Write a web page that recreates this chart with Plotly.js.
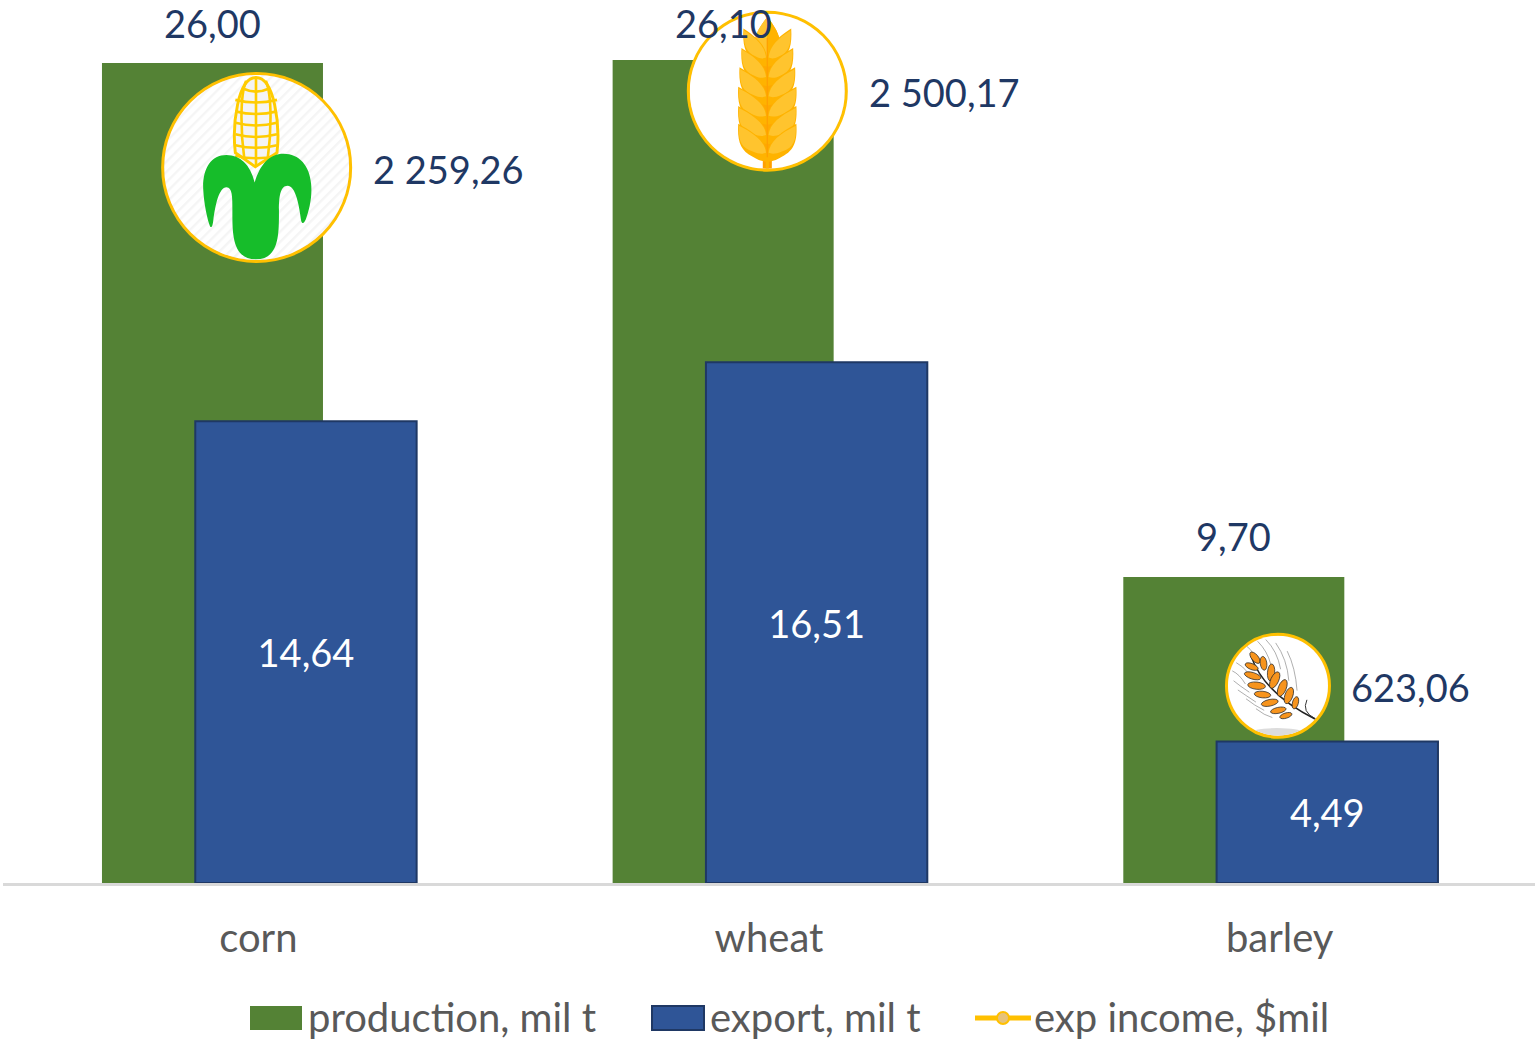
<!DOCTYPE html>
<html><head><meta charset="utf-8">
<script src="https://cdn.plot.ly/plotly-3.0.1.min.js"></script>
<style>html,body{margin:0;padding:0;background:#fff;overflow:hidden}#chart{width:1537px;height:1044px}</style>
</head><body><div id="chart"></div>
<script>
const categories = ['corn', 'wheat', 'barley'];
const production = [26.00, 26.10, 9.70];
const exportVol = [14.64, 16.51, 4.49];
const income = [2259.26, 2500.17, 623.06];
const seriesNames = ['production, mil t', 'export, mil t', 'exp income, $mil'];

const fmt = v => { const p = v.toFixed(2).split('.'); return p[0].replace(/\B(?=(\d{3})+$)/g, ' ') + ',' + p[1]; };
const FONT = 'Lato, sans-serif', NAVY = '#1f3864', GREY = '#595959', ORANGE = '#ffc000';
const CAT_PX = 1532 / 3, Y2_MAX = 2788, PLOT_H = 883;

// ---- icons ----
const disc = (vb, cx, cy, r, inner) => `<svg xmlns="http://www.w3.org/2000/svg" viewBox="${vb}" width="400" height="400"><defs>
<clipPath id="c"><circle cx="${cx}" cy="${cy}" r="${r}"/></clipPath>
<pattern id="h" width="22" height="22" patternUnits="userSpaceOnUse" patternTransform="rotate(-45)"><rect width="22" height="22" fill="#fff"/><rect width="22" height="7" fill="#f5f5f5"/></pattern></defs>${inner}</svg>`;

const cornIcon = (() => {
  let grid = '';
  [75, 108, 143, 178, 213, 246, 278].forEach((y, i) => { grid += `<path d="M${i < 1 ? 282 : 255},${y + 6} Q318,${y + 22} ${i < 1 ? 354 : 382},${y + 6}"/>`; });
  grid += '<path d="M318,46V318M288,56C268,100 272,220 282,290M348,56C368,100 364,220 354,290"/>';
  return disc('38 38 564 564', 320, 320, 282, `<circle cx="320" cy="320" r="282" fill="url(#h)"/>
<g clip-path="url(#c)"><path d="M255,275C245,190 262,46 318,46C374,46 392,190 382,275L316,318Z" fill="#f4f4f4" stroke="#ffcc00" stroke-width="9"/>
<g fill="none" stroke="#ffcc00" stroke-width="8">${grid}</g>
<path d="M314,366C300,310 270,282 228,282C180,282 155,325 157,385C159,430 170,480 178,500C184,506 186,495 188,480C194,435 205,380 228,380C246,380 246,410 246,450C246,520 245,600 318,600C390,600 388,520 388,450C388,410 392,376 414,376C440,376 450,440 456,484C460,494 465,490 470,478C480,450 490,410 486,370C482,315 450,278 402,278C360,278 330,310 314,366Z" fill="#16bd2a"/></g>`);
})();

const wheatIcon = (() => {
  const rows = [[74, 185], [80, 245], [86, 305], [90, 365], [90, 425], [90, 480]];
  let g = '';
  rows.forEach(([w, yb]) => {
    const tip = yb - 104;
    const right = `M292,${yb}C292,${yb - 50} ${292 + w * 0.4},${tip + 30} ${292 + w},${tip}C${292 + w + 3},${tip + 50} ${292 + w - 4},${yb - 22} ${292 + w * 0.5},${yb - 2}C${292 + w * 0.3},${yb + 10} 305,${yb + 12} 292,${yb + 14}Z`;
    const light = `M296,${yb - 14}C300,${yb - 50} ${292 + w * 0.45},${tip + 30} ${292 + w - 2},${tip + 6}C${292 + w},${tip + 50} ${292 + w - 8},${yb - 30} ${292 + w * 0.5},${yb - 18}C${292 + w * 0.3},${yb - 10} 305,${yb - 10} 296,${yb - 14}Z`;
    [1, -1].forEach(s => {
      const t = s < 0 ? 'transform="translate(584,0) scale(-1,1)"' : '';
      g += `<g ${t}><path d="${right}" fill="#ffb300"/><path d="${light}" fill="#ffc42e"/></g>`;
    });
  });
  return disc('52 35 480 480', 292, 275, 240, `<circle cx="292" cy="275" r="240" fill="#fff"/>
<g clip-path="url(#c)"><rect x="278" y="470" width="28" height="50" fill="#ffa000"/><rect x="287" y="470" width="10" height="50" fill="#ffb300"/>
<path d="M292,45C312,70 332,100 332,130L340,460Q292,500 244,460L252,130C252,100 272,70 292,45Z" fill="#ffa800"/>
<path d="M292,45C272,70 252,100 252,130L292,190Z" fill="#ffc42e"/><path d="M292,45C312,70 332,100 332,130L292,190Z" fill="#ffb300"/>
${g}<path d="M292,110V480" stroke="#ffa000" stroke-width="4"/></g>`);
})();

const barleyIcon = (() => {
  const grains = [[97, 80, 50, 21, 10], [123, 97, 82, 21, 10], [146, 125, -85, 26, 11], [157, 148, -65, 27, 12], [180, 172, -68, 27, 12], [200, 195, -70, 26, 12], [220, 217, -75, 19, 9],
                  [87, 107, 22, 21, 9], [90, 135, 17, 26, 10], [102, 165, 6, 27, 11], [120, 192, 6, 25, 10], [142, 217, -12, 26, 10], [168, 240, -12, 24, 9], [191, 256, -17, 19, 8]];
  const awns = ['M40,95Q60,105 78,128', 'M28,120Q50,130 68,160', 'M32,150Q50,165 80,185', 'M45,178Q70,195 100,215', 'M70,205Q95,225 125,240', 'M100,235Q125,255 150,262',
                'M72,45Q85,55 92,68', 'M105,30Q135,60 145,100', 'M130,25Q165,60 175,115', 'M160,35Q195,85 200,150', 'M195,60Q220,110 225,180'];
  return disc('15 13 304 304', 167, 165, 152, `<circle cx="167" cy="165" r="152" fill="#fff"/>
<g clip-path="url(#c)"><ellipse cx="165" cy="306" rx="75" ry="12" fill="#dcdcdc"/>
<g fill="none" stroke="#777" stroke-width="1.8">${awns.map(d => `<path d="${d}"/>`).join('')}</g>
<path d="M85,75Q125,190 281,267" fill="none" stroke="#222" stroke-width="4.5"/><path d="M255,208Q238,245 280,265" fill="none" stroke="#333" stroke-width="3"/>
${grains.map(([x, y, r, a, b]) => `<ellipse cx="${x}" cy="${y}" rx="${a}" ry="${b}" transform="rotate(${r} ${x} ${y})" fill="#f7941d" stroke="#2b2b2b" stroke-width="2.2"/>`).join('')}</g>`);
})();

const icons = [cornIcon, wheatIcon, barleyIcon];
const markerSizes = [188, 158, 103];
const iconSizes = markerSizes.map(s => s - 3);

// one isolated point per category: the line only appears in the legend
const gap = a => a.flatMap((v, i) => i ? [null, v] : [v]);

const traces = [
  { type: 'bar', name: seriesNames[0], x: categories, y: production, width: 0.4328, offset: -0.3062,
    marker: { color: '#548235', line: { width: 0 } }, hoverinfo: 'none' },
  { type: 'bar', name: seriesNames[1], x: categories, y: exportVol, width: 0.4335, offset: -0.1235,
    marker: { color: '#2f5597', line: { width: 2, color: NAVY } },
    text: exportVol.map(fmt), textposition: 'inside', insidetextanchor: 'middle', textangle: 0, constraintext: 'none',
    insidetextfont: { family: FONT, size: 38, color: '#ffffff' }, hoverinfo: 'none' },
  { type: 'scatter', name: seriesNames[2], mode: 'lines+markers', xaxis: 'x2', yaxis: 'y2',
    x: gap(categories), y: gap(income), connectgaps: false, cliponaxis: false,
    line: { color: ORANGE, width: 4 },
    marker: { size: gap(markerSizes), color: '#e6c27a', line: { color: ORANGE, width: 3 }, opacity: 1 }, hoverinfo: 'none' }
];

const barYShift = [40, 37, 41];
const barLabels = categories.map((c, i) => ({
  xref: 'x', yref: 'y', x: c, y: production[i], xshift: -46, yshift: barYShift[i], yanchor: 'middle', xanchor: 'center',
  text: fmt(production[i]), showarrow: false, font: { family: FONT, size: 38, color: NAVY } }));
const incomeShift = [114, 100, 71], incomeY = [-2, -1, -1];
const incomeLabels = categories.map((c, i) => ({
  xref: 'x2', yref: 'y2', x: c, y: income[i], xshift: incomeShift[i], yshift: incomeY[i], yanchor: 'middle', xanchor: 'left',
  text: fmt(income[i]), showarrow: false, font: { family: FONT, size: 38, color: NAVY } }));

const layout = {
  width: 1537, height: 1044, paper_bgcolor: '#fff', plot_bgcolor: '#fff',
  margin: { l: 3, r: 2, t: 0, b: 161, pad: 0, autoexpand: false }, barmode: 'overlay', showlegend: true, hovermode: false,
  font: { family: FONT, color: GREY },
  xaxis: { type: 'category', categoryarray: categories, showgrid: false, showline: true, linecolor: '#d9d9d9', linewidth: 3,
    ticks: '', ticklabelstandoff: 18, tickfont: { family: FONT, size: 40, color: GREY }, zeroline: false, automargin: false },
  yaxis: { range: [0, 28], visible: false, showgrid: false, zeroline: false },
  xaxis2: { type: 'category', categoryarray: categories, overlaying: 'x', range: [-0.4967, 2.5033], visible: false },
  yaxis2: { overlaying: 'y', side: 'right', range: [0, Y2_MAX], visible: false, showgrid: false, zeroline: false },
  legend: { orientation: 'h', x: 0, xanchor: 'left', y: -0.1, yanchor: 'top', itemwidth: 56, itemsizing: 'constant',
    font: { family: FONT, size: 40, color: GREY }, bgcolor: 'rgba(0,0,0,0)', traceorder: 'normal' },
  annotations: barLabels.concat(incomeLabels),
  images: categories.map((c, i) => ({
    source: 'data:image/svg+xml;charset=utf-8,' + encodeURIComponent(icons[i]),
    xref: 'x2', yref: 'y2', x: c, y: income[i],
    sizex: iconSizes[i] / CAT_PX, sizey: iconSizes[i] / PLOT_H * Y2_MAX,
    xanchor: 'center', yanchor: 'middle', sizing: 'stretch', layer: 'above' }))
};

Plotly.newPlot('chart', traces, layout, { displayModeBar: false, staticPlot: true }).then(gd => {
  // legend swatches in the reference are wide blocks, spaced by their own positions
  const targetX = [243, 645, 970], targetY = 1018, textNudge = [-1, -1, -2];
  const sb = gd.querySelector('.legend .scrollbox');
  if (sb) sb.removeAttribute('clip-path');
  gd.querySelectorAll('.legend .traces').forEach((el, i) => {
    const m = el.parentNode.getScreenCTM();
    el.setAttribute('transform', `translate(${targetX[i] - m.e},${targetY - m.f})`);
    const t = el.querySelector('text');
    if (t) {
      t.setAttribute('x', parseFloat(t.getAttribute('x')) + textNudge[i]);
      t.setAttribute('y', parseFloat(t.getAttribute('y') || 0) - 2);
    }
    const ln = el.querySelector('.legendlines path');
    if (ln) ln.style.strokeWidth = '5px';
  });
  gd.querySelectorAll('.legend path.legendbar, .legend path.legendundefined').forEach(p => {
    p.setAttribute('d', 'M26,12H-26V-12H26Z');
  });
});
</script></body></html>
